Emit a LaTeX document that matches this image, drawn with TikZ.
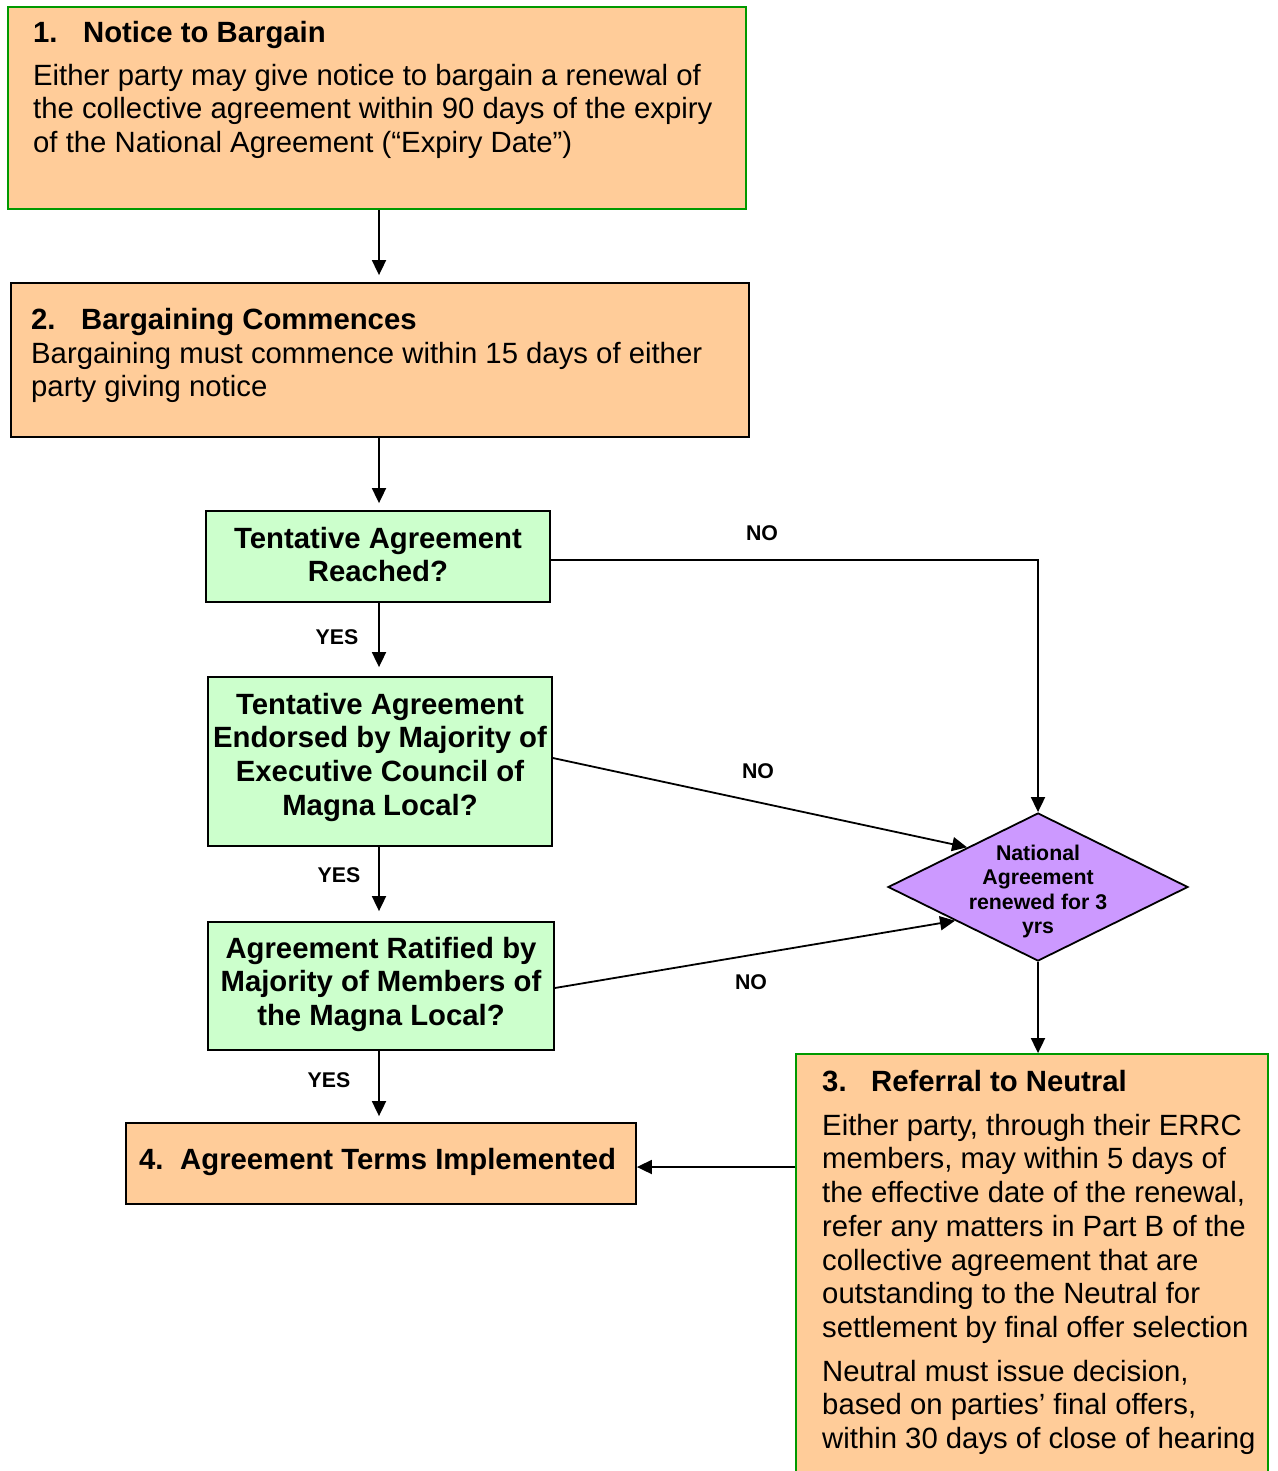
\documentclass[tikz,border=0pt]{standalone}
\usepackage{fontspec}
\setmainfont{Liberation Sans}
\usetikzlibrary{arrows.meta,shapes.geometric,calc}
\definecolor{orfill}{HTML}{FFCC99}
\definecolor{grfill}{HTML}{CCFFCC}
\definecolor{pufill}{HTML}{CC99FF}
\definecolor{grline}{RGB}{0,153,0}
\newcommand\topstrut[1]{\rule{0pt}{#1}}
\tikzset{
  obox/.style={draw=black,fill=orfill,line width=1.8pt,inner sep=0pt,rectangle},
  ogbox/.style={draw=grline,fill=orfill,line width=1.8pt,inner sep=0pt,rectangle},
  gbox/.style={draw=black,fill=grfill,line width=1.8pt,inner sep=0pt,rectangle},
  dbox/.style={draw=black,fill=pufill,line width=1.8pt,inner sep=0pt,diamond},
  bodytxt/.style={inner sep=0pt,anchor=north west,align=left,font=\fontsize{29.3pt}{33.7pt}\selectfont},
  titletxt/.style={inner sep=0pt,anchor=base west,font=\fontsize{29.3pt}{33.7pt}\selectfont\bfseries},
  ctxt/.style={inner sep=0pt,anchor=north,align=center,font=\fontsize{29.3pt}{33.7pt}\selectfont\bfseries},
  dtxt/.style={inner sep=0pt,anchor=north,align=center,font=\fontsize{21.3pt}{24.5pt}\selectfont\bfseries},
  lbl/.style={inner sep=0pt,font=\fontsize{21.3pt}{24.5pt}\selectfont\bfseries},
  arr/.style={line width=1.8pt,-{Triangle[length=15pt,width=14pt]}}
}
\begin{document}
\begin{tikzpicture}[x=1pt,y=-1pt]
\useasboundingbox (0,0) rectangle (1277,1471);
\clip (0,0) rectangle (1277,1471);
% boxes
\node[ogbox,minimum width=738pt,minimum height=202pt] (b1) at (377,108) {};
\node[obox,minimum width=738pt,minimum height=154pt] (b2) at (380,360) {};
\node[gbox,minimum width=344pt,minimum height=91pt] (t1) at (378,556.5) {};
\node[gbox,minimum width=344pt,minimum height=169pt] (t2) at (380,761.5) {};
\node[gbox,minimum width=346pt,minimum height=128pt] (t3) at (381,986) {};
\node[obox,minimum width=510pt,minimum height=81pt] (b4) at (381,1163.5) {};
\node[dbox,minimum width=300pt,minimum height=148pt] (dia) at (1038,887) {};
\node[ogbox,minimum width=472pt,minimum height=422pt] (b3) at (1032,1265) {};
% texts
\node[titletxt] (b1h) at (33,43) {\makebox[50pt][l]{1.}Notice to Bargain};
\node[bodytxt] (b1b) at (33,61) {\topstrut{24pt}Either party may give notice to bargain a renewal of\\the collective agreement within 90 days of the expiry\\of the National Agreement (“Expiry Date”)};
\node[titletxt] (b2h) at (31,329) {\makebox[50pt][l]{2.}Bargaining Commences};
\node[bodytxt] (b2b) at (31,339) {\topstrut{24pt}Bargaining must commence within 15 days of either\\party giving notice};
\node[ctxt] (t1t) at (378,524) {\topstrut{24pt}Tentative Agreement\\Reached?};
\node[ctxt] (t2t) at (380,690) {\topstrut{24pt}Tentative Agreement\\Endorsed by Majority of\\Executive Council of\\Magna Local?};
\node[ctxt] (t3t) at (381,934) {\topstrut{24pt}Agreement Ratified by\\Majority of Members of\\the Magna Local?};
\node[titletxt] (b4t) at (139,1169) {\makebox[41pt][l]{4.}Agreement Terms Implemented};
\node[dtxt] (diat) at (1038,842) {\topstrut{18pt}National\\Agreement\\renewed for 3\\yrs};
\node[titletxt] (b3h) at (822,1091) {\makebox[49pt][l]{3.}Referral to Neutral};
\node[bodytxt] (b3b) at (822,1111) {\topstrut{24pt}Either party, through their ERRC\\members, may within 5 days of\\the effective date of the renewal,\\refer any matters in Part B of the\\collective agreement that are\\outstanding to the Neutral for\\settlement by final offer selection};
\node[bodytxt] (b3c) at (822,1357) {\topstrut{24pt}Neutral must issue decision,\\based on parties’ final offers,\\within 30 days of close of hearing};
% labels
\node[lbl] (no1) at (762,533) {NO};
\node[lbl] (no2) at (758,771) {NO};
\node[lbl] (no3) at (751,982) {NO};
\node[lbl] (y1) at (337,637) {YES};
\node[lbl] (y2) at (339,875) {YES};
\node[lbl] (y3) at (329,1080) {YES};
% connectors
\coordinate (c1) at (379,209);
\draw[arr,shorten >=7pt] (b1.south -| c1) -- (b2.north -| c1);
\draw[arr,shorten >=7pt] (b2.south -| c1) -- (t1.north -| c1);
\draw[arr,shorten >=9pt] (t1.south -| c1) -- (t2.north -| c1);
\draw[arr,shorten >=10pt] (t2.south -| c1) -- (t3.north -| c1);
\draw[arr,shorten >=6pt] (t3.south -| c1) -- (b4.north -| c1);
\draw[arr] (t1.east |- 0,560) -| (dia.north);
\draw[arr] (t2.east |- 0,758) -- ($(dia.west)!0.53!(dia.north)$);
\draw[arr] (t3.east |- 0,988) -- ($(dia.west)!0.45!(dia.south)$);
\draw[arr] (dia.south) -- (b3.north -| dia.south);
\draw[arr] (b3.west |- 0,1167) -- (b4.east |- 0,1167);
\end{tikzpicture}
\end{document}
